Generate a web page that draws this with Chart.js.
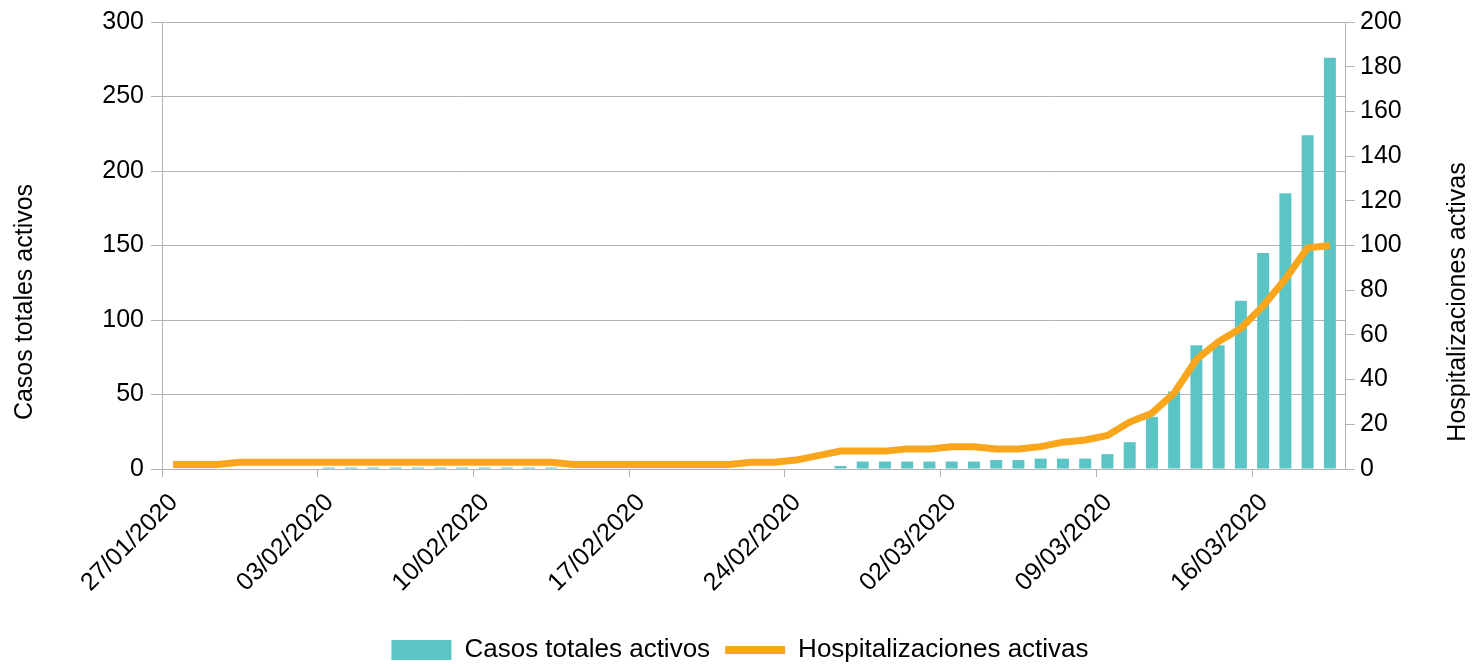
<!DOCTYPE html>
<html lang="es">
<head>
<meta charset="UTF-8">
<title>Casos totales activos y hospitalizaciones activas</title>
<script src="https://cdn.jsdelivr.net/npm/chart.js"></script>
<style>
    html, body { margin: 0; padding: 0; background: #ffffff; }
    .grafica { width: 1480px; height: 664px; position: relative; }
</style>
</head>
<body>
<div class="grafica">
    <canvas id="myChart"></canvas>
</div>

<script>
    // Days from 27/01/2020 to 19/03/2020
    const fechas = [
        "27/01/2020", "28/01/2020", "29/01/2020", "30/01/2020", "31/01/2020",
        "01/02/2020", "02/02/2020", "03/02/2020", "04/02/2020", "05/02/2020", "06/02/2020", "07/02/2020",
        "08/02/2020", "09/02/2020", "10/02/2020", "11/02/2020", "12/02/2020", "13/02/2020", "14/02/2020",
        "15/02/2020", "16/02/2020", "17/02/2020", "18/02/2020", "19/02/2020", "20/02/2020", "21/02/2020",
        "22/02/2020", "23/02/2020", "24/02/2020", "25/02/2020", "26/02/2020", "27/02/2020", "28/02/2020",
        "29/02/2020", "01/03/2020", "02/03/2020", "03/03/2020", "04/03/2020", "05/03/2020", "06/03/2020",
        "07/03/2020", "08/03/2020", "09/03/2020", "10/03/2020", "11/03/2020", "12/03/2020", "13/03/2020",
        "14/03/2020", "15/03/2020", "16/03/2020", "17/03/2020", "18/03/2020", "19/03/2020"
    ];

    const casosActivos = [
        null, null, null, null, null, null, null,
        1, 1, 1, 1, 1, 1, 1, 1, 1, 1, 1,
        null, null, null, null, null, null, null, null, null, null, null, null,
        2, 5, 5, 5, 5, 5, 5, 6, 6, 7, 7, 7,
        10, 18, 35, 52, 83, 83, 113, 145, 185, 224, 276
    ];

    const hospitalizaciones = [
        2, 2, 2,
        3, 3, 3, 3, 3, 3, 3, 3, 3, 3, 3, 3, 3, 3, 3,
        2, 2, 2, 2, 2, 2, 2, 2,
        3, 3, 4, 6, 8, 8, 8, 9, 9, 10, 10, 9, 9, 10, 12, 13,
        15, 21, 25, 34, 49, 57, 63, 73, 85, 99, 100
    ];

    // weekly ticks on the date axis (index into fechas)
    const ticksSemanas = [0, 7, 14, 21, 28, 35, 42, 49];

    const colorCasos = "#5bc5c6";
    const colorHosp = "#f9a61d";
    const colorEjes = "#b3b3b3";
    const fuente = "'Liberation Sans', Arial, sans-serif";

    Chart.defaults.font.family = fuente;
    Chart.defaults.font.size = 25;
    Chart.defaults.color = "#000000";

    // vertical axis titles, placed like the original
    const titulosEjes = {
        id: "titulosEjes",
        afterDraw(chart) {
            const ctx = chart.ctx;
            ctx.save();
            ctx.font = "25px " + fuente;
            ctx.fillStyle = "#000000";
            ctx.textAlign = "center";
            ctx.textBaseline = "alphabetic";

            ctx.translate(32, 302);
            ctx.rotate(-Math.PI / 2);
            ctx.fillText("Casos totales activos", 0, 0);
            ctx.restore();

            ctx.save();
            ctx.font = "25px " + fuente;
            ctx.fillStyle = "#000000";
            ctx.textAlign = "center";
            ctx.textBaseline = "alphabetic";
            ctx.translate(1465, 302);
            ctx.rotate(-Math.PI / 2);
            ctx.fillText("Hospitalizaciones activas", 0, 0);
            ctx.restore();
        }
    };

    // legend box a bit shorter than Chart.js computes
    const ajusteLeyenda = {
        id: "ajusteLeyenda",
        afterInit(chart) {
            const fitOriginal = chart.legend.fit;
            chart.legend.fit = function () {
                fitOriginal.call(this);
                this.height = 42;
            };
        }
    };

    const ctx = document.getElementById("myChart").getContext("2d");

    new Chart(ctx, {
        type: "bar",
        data: {
            datasets: [
                {
                    label: "Casos totales activos",
                    data: casosActivos.map((v, i) => ({ x: i + 0.5, y: v })),
                    backgroundColor: colorCasos,
                    borderWidth: 0,
                    barPercentage: 1,
                    categoryPercentage: 0.54,
                    yAxisID: "y",
                    order: 1
                },
                {
                    type: "line",
                    label: "Hospitalizaciones activas",
                    data: hospitalizaciones.map((v, i) => ({ x: i + 0.5, y: v })),
                    borderColor: colorHosp,
                    backgroundColor: colorHosp,
                    borderWidth: 7,
                    pointRadius: 0,
                    tension: 0,
                    fill: false,
                    yAxisID: "y1",
                    order: 0
                }
            ]
        },
        options: {
            responsive: true,
            maintainAspectRatio: false,
            animation: false,
            layout: { padding: { top: 20, left: 0, right: 0, bottom: 0 } },
            plugins: {
                tooltip: { enabled: false },
                legend: {
                    position: "bottom",
                    labels: {
                        color: "#000000",
                        usePointStyle: true,
                        pointStyleWidth: 60,
                        boxHeight: 20,
                        padding: 15,
                        font: { size: 26 },
                        generateLabels: chart => chart.data.datasets.map((ds, i) => ({
                            text: ds.label,
                            datasetIndex: i,
                            fillStyle: ds.type === "line" ? "rgba(0,0,0,0)" : colorCasos,
                            strokeStyle: ds.type === "line" ? colorHosp : colorCasos,
                            lineWidth: ds.type === "line" ? 8 : 0,
                            pointStyle: ds.type === "line" ? "line" : "rect",
                            fontColor: "#000000",
                            hidden: false
                        }))
                    }
                }
            },
            scales: {
                x: {
                    type: "linear",
                    min: 0,
                    max: 53.18,
                    offset: false,
                    afterBuildTicks: axis => {
                        axis.ticks = ticksSemanas.map(v => ({ value: v }));
                    },
                    afterFit: scale => { scale.height = 153; },
                    ticks: {
                        autoSkip: false,
                        minRotation: 45,
                        maxRotation: 45,
                        padding: 11,
                        labelOffset: 12,
                        color: "#000000",
                        callback: v => fechas[v]
                    },
                    grid: { drawOnChartArea: false, offset: false, color: colorEjes, tickLength: 8 },
                    border: { color: colorEjes }
                },
                y: {
                    position: "left",
                    min: 0,
                    max: 300,
                    afterFit: scale => { scale.width = 162; },
                    ticks: { stepSize: 50, padding: 7, color: "#000000" },
                    grid: { color: colorEjes, tickLength: 11 },
                    border: { color: colorEjes }
                },
                y1: {
                    position: "right",
                    min: 0,
                    max: 200,
                    afterFit: scale => { scale.width = 135; },
                    ticks: { stepSize: 20, padding: 5, color: "#000000" },
                    grid: { drawOnChartArea: false, color: colorEjes, tickLength: 10 },
                    border: { color: colorEjes }
                }
            }
        },
        plugins: [titulosEjes, ajusteLeyenda]
    });
</script>
</body>
</html>
